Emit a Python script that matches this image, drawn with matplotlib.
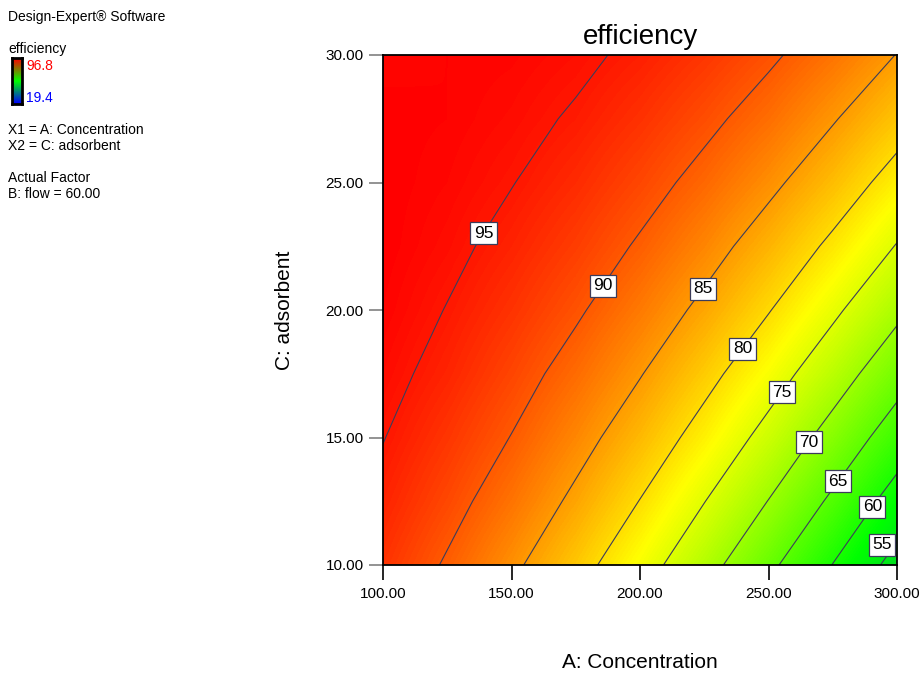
import numpy as np
import matplotlib
matplotlib.use('Agg')
import matplotlib.pyplot as plt
from matplotlib.colors import LinearSegmentedColormap

plt.rcParams['font.family'] = ['Liberation Sans', 'DejaVu Sans']

# design grid: A = concentration, C = adsorbent (B: flow held at 60)
conc = [100, 125, 150, 175, 200, 225, 250, 275, 300]
adsorbent = [10.0, 12.5, 15.0, 17.5, 20.0, 22.5, 25.0, 27.5, 30.0]

# efficiency, one row per adsorbent level (10 -> 30)
efficiency = [
    [92.9, 89.6, 85.8, 81.6, 76.9, 71.7, 66.0, 59.9, 53.3],
    [94.1, 91.3, 88.0, 84.2, 79.9, 75.1, 69.9, 64.2, 58.0],
    [95.1, 92.7, 89.9, 86.5, 82.7, 78.4, 73.6, 68.3, 62.6],
    [95.9, 94.0, 91.5, 88.6, 85.2, 81.3, 77.0, 72.2, 66.9],
    [96.5, 94.9, 92.9, 90.5, 87.5, 84.1, 80.2, 75.8, 71.0],
    [96.8, 95.7, 94.1, 92.1, 89.6, 86.6, 83.1, 79.2, 74.8],
    [96.8, 96.2, 95.1, 93.5, 91.4, 88.9, 85.9, 82.4, 78.4],
    [96.7, 96.5, 95.8, 94.7, 93.0, 90.9, 88.4, 85.3, 81.8],
    [96.3, 96.5, 96.3, 95.6, 94.4, 92.7, 90.6, 88.0, 84.9],
]

levels = [55, 60, 65, 70, 75, 80, 85, 90, 95]
label_pos = [(294.0, 10.8), (288.7, 12.4), (275.5, 13.4), (264.6, 14.9),
             (254.9, 16.8), (239.7, 18.5), (224.9, 20.8), (186.4, 20.9),
             (140.9, 22.9)]

resp_min, resp_max = 19.4, 96.8
xticks = [100, 150, 200, 250, 300]
yticks = [10, 15, 20, 25, 30]

# Design-Expert style colour ramp
de_cmap = LinearSegmentedColormap.from_list(
    'de', [(0.0, '#0000ff'), (0.5, '#00ff00'), (0.75, '#ffff00'), (1.0, '#ff0000')])
legend_cmap = LinearSegmentedColormap.from_list('leg', ['#0000ff', '#00ff00', '#ff0000'])

fig = plt.figure(figsize=(9.24, 6.73), dpi=100)
ax = fig.add_axes([383 / 924, 1 - 565 / 673, 514 / 924, 510 / 673])

Z = np.array(efficiency)
dx = (conc[1] - conc[0]) / 2
dy = (adsorbent[1] - adsorbent[0]) / 2
ax.imshow(Z, origin='lower', aspect='auto', cmap=de_cmap, vmin=resp_min, vmax=resp_max,
          extent=[conc[0] - dx, conc[-1] + dx, adsorbent[0] - dy, adsorbent[-1] + dy],
          interpolation='bilinear', interpolation_stage='data')

cs = ax.contour(conc, adsorbent, Z, levels=levels, colors='#3c3c5a', linewidths=0.8)
labels = ax.clabel(cs, fmt='%d', fontsize=12.5, inline=False, manual=label_pos)
for t in labels:
    t.set_rotation(0)
    t.set_color('black')
    t.set_bbox(dict(boxstyle='square,pad=0.2', fc='white', ec='#3c3c5a', lw=0.9))
    if t.get_text() == '55':
        # box sits just right of the line, inside the frame
        t.set_position((294.2, 10.8))

ax.set_xlim(100, 300)
ax.set_ylim(10, 30)
ax.set_xticks(xticks)
ax.set_yticks(yticks)
ax.set_xticklabels([f'{v:.2f}' for v in xticks], fontsize=11)
ax.set_yticklabels([f'{v:.2f}' for v in yticks], fontsize=11)
ax.tick_params(axis='x', direction='out', length=10.5, width=1.2, color='black', pad=5)
ax.tick_params(axis='y', direction='out', length=10, width=1.2, color='#808080', pad=4)
for s in ax.spines.values():
    s.set_linewidth(1.3)
    s.set_color('black')

ax.set_title('efficiency', fontsize=20, pad=8)
ax.set_xlabel('A: Concentration', fontsize=15)
ax.set_ylabel('C: adsorbent', fontsize=15)
ax.xaxis.set_label_coords(0.5, (565 - 662) / 510)
ax.xaxis.label.set_va('center')
ax.yaxis.set_label_coords((285 - 383) / 514, 0.5)
ax.yaxis.label.set_va('center')
ax.yaxis.label.set_ha('center')

# info panel on the left
def ftext(x, y, s, **kw):
    fig.text(x / 924, 1 - y / 673, s, fontsize=10, va='baseline', **kw)

ftext(8, 21, 'Design-Expert® Software')
ftext(8, 53, 'efficiency')
ftext(26, 70, f'{resp_max:.1f}', color='red')
ftext(26, 102, f'{resp_min:.1f}', color='blue')
ftext(8, 134, 'X1 = A: Concentration')
ftext(8, 150, 'X2 = C: adsorbent')
ftext(8, 182, 'Actual Factor')
ftext(8, 198, 'B: flow = 60.00')

lax = fig.add_axes([12 / 924, 1 - 104 / 673, 10 / 924, 46 / 673])
lax.imshow(np.linspace(1, 0, 50)[:, None], aspect='auto', cmap=legend_cmap)
lax.set_xticks([])
lax.set_yticks([])
for s in lax.spines.values():
    s.set_linewidth(2)
    s.set_color('black')

fig.savefig('out.png', dpi=100)
